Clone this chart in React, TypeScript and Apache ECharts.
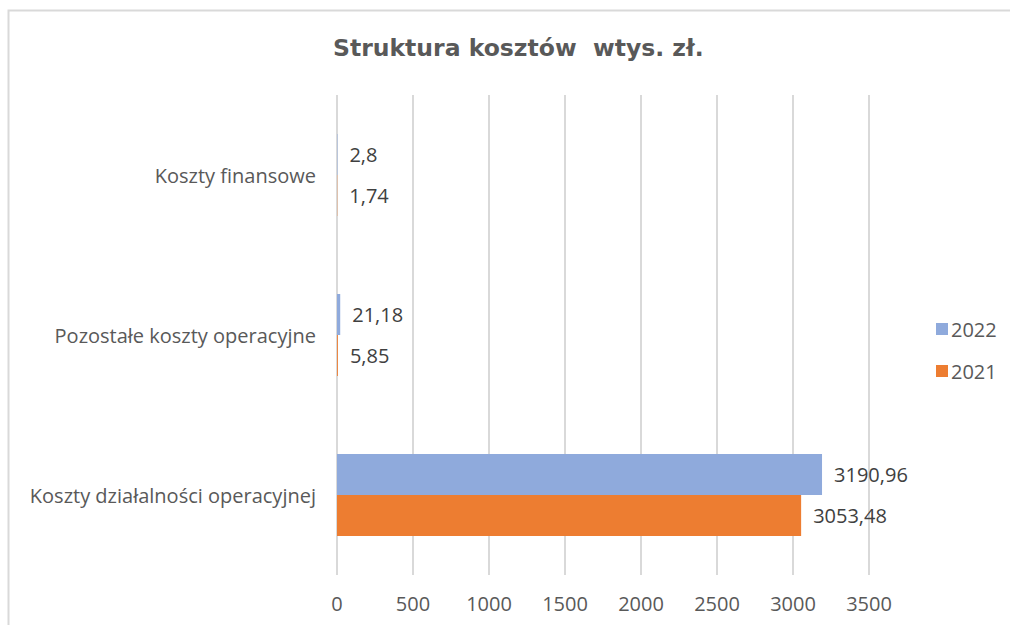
import React, { useEffect, useRef } from "react";
import * as echarts from "echarts";

const categories = [
  "Koszty działalności operacyjnej",
  "Pozostałe koszty operacyjne",
  "Koszty finansowe",
];
const values2022 = [3190.96, 21.18, 2.8];
const values2021 = [3053.48, 5.85, 1.74];
const seriesNames = ["2022", "2021"];
const axisMax = 3500;
const axisInterval = 500;

const FONT = "Open Sans";
const FS = 20;
const TEXT = "#595959";

const fmt = (v: number) => String(v).replace(".", ",");

export default function App() {
  const ref = useRef<HTMLDivElement>(null);
  useEffect(() => {
    if (!ref.current) return;
    const chart = echarts.init(ref.current, undefined, { renderer: "svg" });
    const label = {
      show: true,
      position: "right",
      distance: 12,
      formatter: (p: any) => fmt(p.value),
      fontFamily: FONT,
      fontSize: FS,
      color: "#404040",
    };
    chart.setOption({
      animation: false,
      backgroundColor: "#ffffff",
      title: {
        text: "Struktura kosztów  wtys. zł.",
        left: 328,
        top: 31,
        textStyle: {
          fontFamily: "DejaVu Sans",
          fontSize: 23.5,
          fontWeight: "bold",
          color: TEXT,
        },
      },
      graphic: [
        {
          type: "rect",
          shape: { x: 8.5, y: 10.5, width: 1010, height: 620 },
          style: { fill: "none", stroke: "#d9d9d9", lineWidth: 2 },
          silent: true,
        },
      ],
      legend: {
        orient: "vertical",
        left: 931,
        top: 314,
        itemWidth: 12,
        itemHeight: 12,
        itemGap: 22,
        icon: "rect",
        data: seriesNames,
        textStyle: { fontFamily: FONT, fontSize: FS, color: TEXT, padding: [0, 0, 0, -2] },
      },
      grid: { left: 337, right: 141, top: 95, bottom: 50 },
      xAxis: {
        type: "value",
        min: 0,
        max: axisMax,
        interval: axisInterval,
        axisLine: { show: false },
        axisTick: { show: false },
        splitLine: { lineStyle: { color: "#d9d9d9", width: 2 } },
        axisLabel: {
          fontFamily: FONT,
          fontSize: FS,
          color: TEXT,
          margin: 18,
          formatter: (v: number) => String(v),
        },
      },
      yAxis: {
        type: "category",
        data: categories,
        axisLine: { show: false },
        axisTick: { show: false },
        axisLabel: {
          fontFamily: FONT,
          fontSize: FS,
          color: TEXT,
          margin: 21,
        },
      },
      series: [
        {
          name: "2022",
          type: "bar",
          data: values2022,
          barWidth: 41,
          barGap: "0%",
          itemStyle: { color: "#8faadc" },
          label,
        },
        {
          name: "2021",
          type: "bar",
          data: values2021,
          barWidth: 41,
          barGap: "0%",
          itemStyle: { color: "#ed7d31" },
          label,
        },
      ],
    });
    return () => chart.dispose();
  }, []);
  return (
    <div
      ref={ref}
      style={{ position: "fixed", left: 0, top: 0, width: 1010, height: 625 }}
    />
  );
}
